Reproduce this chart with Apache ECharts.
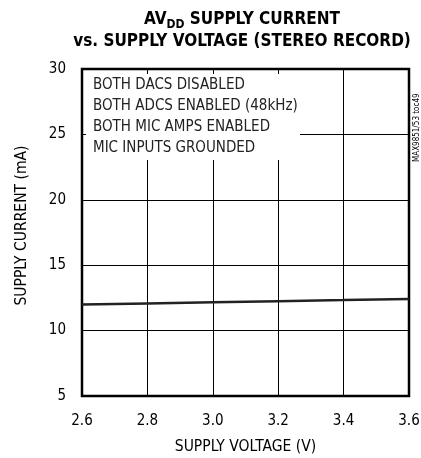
<!DOCTYPE html>
<html>
<head>
<meta charset="utf-8">
<script src="https://cdn.jsdelivr.net/npm/echarts@6/dist/echarts.min.js"></script>
<style>
  html, body { margin: 0; padding: 0; background: #fff; }
  #chart { width: 421px; height: 458px; }
</style>
</head>
<body>
<div id="chart"></div>
<script>
// supply voltage (V) and AVDD supply current (mA)
var voltage = [2.6, 2.8, 3.0, 3.2, 3.4, 3.6];
var current = [12.0, 12.08, 12.16, 12.25, 12.33, 12.42];
var notes = [
  'BOTH DACS DISABLED',
  'BOTH ADCS ENABLED (48kHz)',
  'BOTH MIC AMPS ENABLED',
  'MIC INPUTS GROUNDED'
];

var font = "'Liberation Sans Narrow', 'DejaVu Sans Condensed', sans-serif";
var chart = echarts.init(document.getElementById('chart'), null, { renderer: 'canvas' });

var pts = [];
for (var i = 0; i < voltage.length; i++) {
  pts.push([voltage[i], current[i]]);
}

var option = {
  backgroundColor: '#fff',
  animation: false,
  title: {
    text: '{b|AV}{s|DD}{b| SUPPLY CURRENT}\n{b|vs. SUPPLY VOLTAGE (STEREO RECORD)}',
    left: 237,
    textAlign: 'center',
    top: 4,
    textStyle: {
      rich: {
        b: { fontFamily: font, fontWeight: 'bold', fontSize: 17, color: '#000', lineHeight: 22 },
        s: { fontFamily: font, fontWeight: 'bold', fontSize: 12, color: '#000', verticalAlign: 'bottom', padding: [6, 0, 0, 0], lineHeight: 22 }
      }
    }
  },
  grid: {
    left: 82,
    right: 12,
    top: 69,
    bottom: 62,
    outerBoundsMode: 'none',
    show: true,
    borderColor: '#000',
    borderWidth: 2.5,
    backgroundColor: 'transparent'
  },
  xAxis: {
    type: 'value',
    min: 2.6,
    max: 3.6,
    interval: 0.2,
    name: 'SUPPLY VOLTAGE (V)',
    nameLocation: 'middle',
    nameGap: 43,
    nameTextStyle: { fontFamily: font, fontSize: 15.5, color: '#000' },
    axisLine: { show: false },
    axisTick: { show: false },
    axisLabel: {
      margin: 18,
      fontFamily: font, fontSize: 15, color: '#000',
      formatter: function (v) { return v.toFixed(1); }
    },
    splitLine: { show: true, lineStyle: { color: '#000', width: 1 } }
  },
  yAxis: {
    type: 'value',
    min: 5,
    max: 30,
    interval: 5,
    name: 'SUPPLY CURRENT (mA)',
    nameLocation: 'middle',
    nameGap: 52,
    nameTextStyle: { fontFamily: font, fontSize: 15.5, color: '#000', padding: [0, 0, 0, 14] },
    axisLine: { show: false },
    axisTick: { show: false },
    axisLabel: { margin: 16, fontFamily: font, fontSize: 15, color: '#000' },
    splitLine: { show: true, lineStyle: { color: '#000', width: 1 } }
  },
  series: [{
    type: 'line',
    data: pts,
    symbol: 'none',
    lineStyle: { color: '#222', width: 2.5 },
    z: 3
  }],
  graphic: [
    {
      type: 'rect',
      shape: { x: 86, y: 74, width: 214, height: 86 },
      style: { fill: '#fff' },
      z: 10
    },
    {
      type: 'text',
      left: 93,
      top: 75,
      z: 11,
      style: {
        text: notes.join('\n'),
        font: '15px ' + font,
        lineHeight: 21,
        fill: '#222'
      }
    },
    {
      type: 'text',
      x: 413,
      y: 162,
      rotation: Math.PI / 2,
      z: 11,
      style: {
        text: 'MAX9851/53 toc49',
        font: '8px ' + font,
        fill: '#000'
      }
    }
  ]
};

chart.setOption(option);
</script>
</body>
</html>
